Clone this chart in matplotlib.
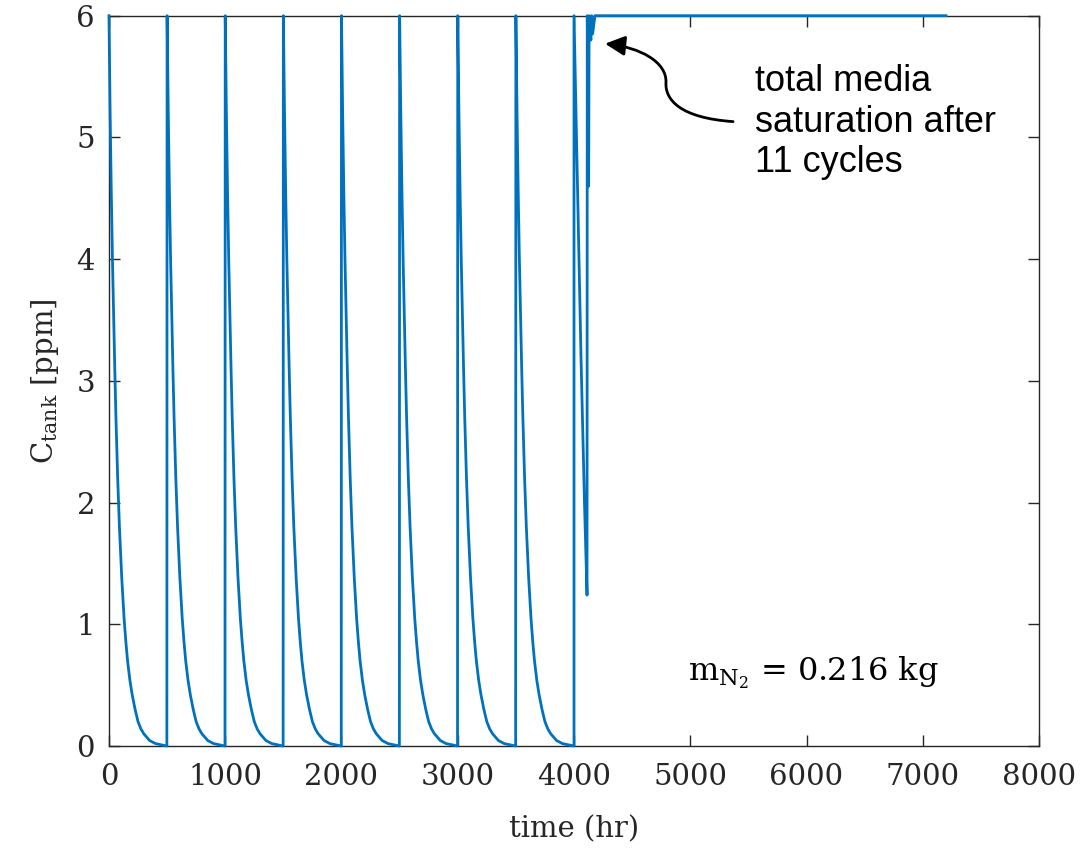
import matplotlib.pyplot as plt
import numpy as np
from matplotlib.patches import FancyArrowPatch
from matplotlib.path import Path

# one regeneration cycle (offset in hr, ppm)
decay_t = [0, 10, 20, 30, 40, 50, 60, 75, 90, 110, 130, 145, 160, 180, 200, 225, 250, 275, 300, 350, 400, 450, 498]
decay_c = [6.0, 5.2, 4.55, 4.0, 3.55, 3.1, 2.7, 2.2, 1.8, 1.38, 1.05, 0.86, 0.7, 0.54, 0.42, 0.3, 0.2, 0.14, 0.1, 0.045, 0.02, 0.01, 0.0]
cycle_starts = [0, 500, 1000, 1500, 2000, 2500, 3000, 3500]

# last partial cycle and the saturated tail
tail_t = [4000, 4000, 4030, 4060, 4090, 4112, 4114, 4126, 4130, 4145, 4152, 4160, 4180, 7200]
tail_c = [0.0, 6.0, 4.6, 3.2, 2.0, 1.24, 6.0, 4.6, 6.0, 5.8, 6.0, 5.85, 6.0, 6.0]

xticks = [0, 1000, 2000, 3000, 4000, 5000, 6000, 7000, 8000]
yticks = [0, 1, 2, 3, 4, 5, 6]

# stitch the cycles together
t_all = []
c_all = []
for s in cycle_starts:
    t_all += [s + d for d in decay_t]
    c_all += decay_c
t_all += tail_t
c_all += tail_c

plt.rcParams['font.family'] = 'DejaVu Serif'
plt.rcParams['mathtext.fontset'] = 'dejavuserif'

fig = plt.figure(figsize=(10.81, 8.49), dpi=100)
ax = fig.add_axes([0.1008, 0.1213, 0.8604, 0.8602])

ax.plot(t_all, c_all, color='#0072BD', linewidth=2, clip_on=False, zorder=3)

ax.set_xlim(0, 8000)
ax.set_ylim(0, 6)
ax.set_xticks(xticks)
ax.set_yticks(yticks)
ax.tick_params(direction='in', length=8, width=1, top=True, right=True,
               labelsize=21, colors='#262626')
ax.tick_params(axis='x', pad=12)
ax.tick_params(axis='y', pad=10)
for sp in ax.spines.values():
    sp.set_color('#262626')
    sp.set_linewidth(1)

ax.set_xlabel('time (hr)', fontsize=21, color='#262626', labelpad=18)
ax.set_ylabel(r'$\mathrm{C_{tank}}$ [ppm]', fontsize=21, color='#262626', labelpad=11)

# note and curved arrow
ax.text(5557, 5.6, 'total media\nsaturation after\n11 cycles', family='Liberation Sans',
        fontsize=26, ha='left', va='top', linespacing=1.2)
verts = [(5368, 5.13), (4912, 5.16), (4783, 5.31), (4791, 5.45),
         (4800, 5.62), (4568, 5.74), (4267, 5.77)]
codes = [Path.MOVETO, Path.CURVE4, Path.CURVE4, Path.CURVE4,
         Path.CURVE4, Path.CURVE4, Path.CURVE4]
arrow = FancyArrowPatch(path=Path(verts, codes), arrowstyle='-|>,head_length=12,head_width=6',
                        color='black', linewidth=2, transform=ax.transData)
ax.add_patch(arrow)

ax.text(4981, 0.54, r'$\mathrm{m_{N_2}}$ = 0.216 kg', fontsize=23, ha='left', va='baseline')

fig.savefig('out.png', dpi=100)
